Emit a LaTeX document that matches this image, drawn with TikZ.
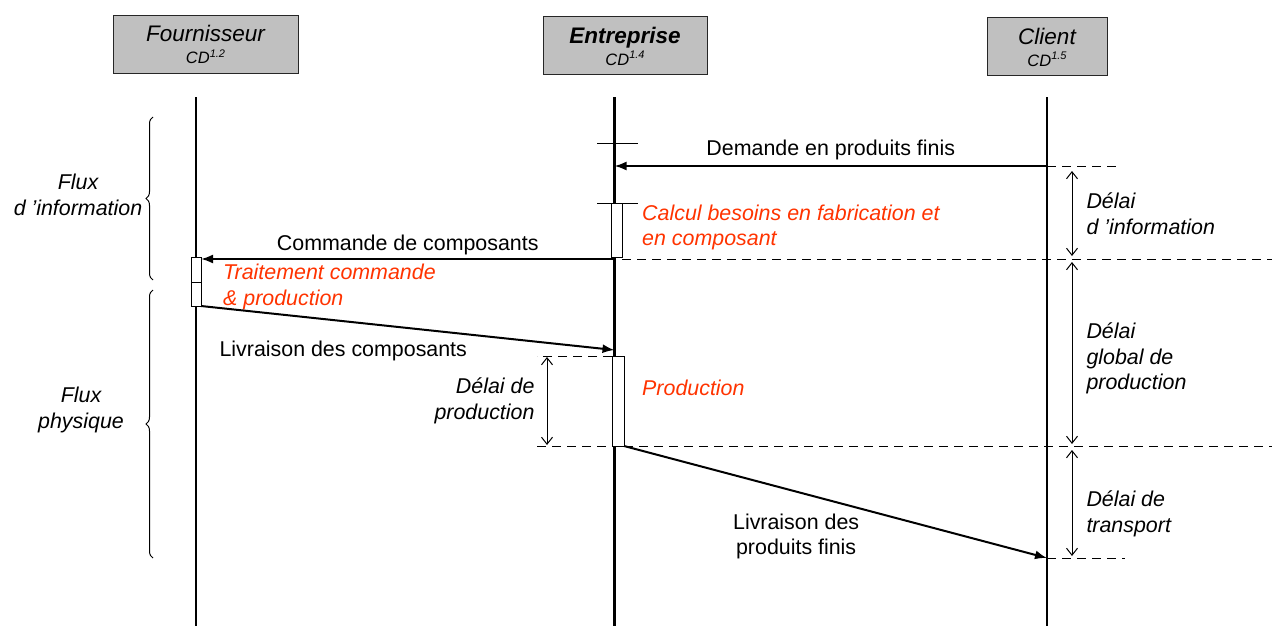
\documentclass[tikz,border=0pt]{standalone}
\usepackage{fontspec}
\setmainfont{Liberation Sans}
\usetikzlibrary{positioning, arrows.meta, decorations.pathreplacing}

\definecolor{taskred}{RGB}{255,51,0}
\definecolor{boxgray}{RGB}{192,192,192}
\newcommand{\cdref}[1]{{\fontsize{16.5}{18}\selectfont CD\raisebox{6.5pt}{\fontsize{11}{11}\selectfont #1}}}

\tikzset{
  actor/.style={draw=black!85, line width=1pt, fill=boxgray, minimum height=58pt, align=center, inner sep=0pt, font=\fontsize{22.5}{22}\selectfont\itshape},
  lifeline/.style={line width=1.2pt},
  activity/.style={draw, fill=white, line width=1pt, inner sep=0pt, outer sep=0pt},
  msg/.style={line width=2pt, -{Latex[length=12pt, width=9pt]}},
  delay/.style={line width=1pt, {Straight Barb[length=7pt, width=11pt]}-{Straight Barb[length=7pt, width=11pt]}},
  limit/.style={line width=1pt, dash pattern=on 9pt off 6pt},
  txt/.style={inner sep=0pt, font=\fontsize{21.4}{25}\selectfont, align=center},
  note/.style={txt, font=\fontsize{21.4}{25.5}\selectfont\itshape, align=left},
  task/.style={txt, text=taskred, font=\fontsize{21.4}{25.5}\selectfont\itshape, align=left}
}

\begin{document}
\begin{tikzpicture}[x=1pt, y=-1pt]
	\useasboundingbox (0,0) rectangle (1272,626);
	
	% acteurs
	\node[actor, minimum width=185pt]                          (fournisseur) at (205.5,44.5) {Fournisseur\\\cdref{1.2}};
	\node[actor, minimum width=164pt, font=\fontsize{22.5}{22}\selectfont\bfseries\itshape] (entreprise) at (625,46) {Entreprise\\{\mdseries\cdref{1.4}}};
	\node[actor, minimum width=120pt]                          (client)      at (1047,47)    {Client\\\cdref{1.5}};
	
	% lignes de vie
	\coordinate (f top)    at (196,97);
	\coordinate (f bottom) at (196,626);
	\coordinate (e top)    at (614.5,97);
	\coordinate (e bottom) at (614.5,626);
	\coordinate (c top)    at (1047,97);
	\coordinate (c bottom) at (1047,626);
	
	\draw[lifeline]                (f top) -- (f bottom);
	\draw[lifeline, line width=3pt] (e top) -- (e bottom);
	\draw[lifeline]                (c top) -- (c bottom);
	
	\draw[line width=1pt] (597,143) -- (638,143);
	\draw[line width=1pt] (597,203) -- (638,203);
	
	% activites
	\node[activity, minimum width=11pt, minimum height=54pt]                       (calcul)      at (616.5,230) {};
	\node[activity, minimum width=10pt, minimum height=25pt]                       (traitement a) at (196,269.5) {};
	\node[activity, minimum width=10pt, minimum height=24pt, below=0pt of traitement a] (traitement b) {};
	\node[activity, minimum width=12pt, minimum height=90pt]                       (production)  at (618,401) {};
	
	\node[task, anchor=north west] (calcul txt)     at (642,204.5) {Calcul besoins en fabrication et\\en composant};
	\node[task, anchor=north west] (traitement txt) at (223,264)   {Traitement commande\\\& production};
	\node[task, anchor=west]       (production txt) at (642,388)   {Production};
	
	% messages
	\coordinate (c demande)   at (1047,166);
	\coordinate (e demande)   at (614.5,166);
	\coordinate (e commande)  at (614.5,259);
	\coordinate (f commande)  at (201,259);
	\coordinate (e livraison) at (614.5,350);
	\coordinate (c livraison) at (1047,558);
	
	\draw[msg] (c demande) -- node[txt, above=5pt] {Demande en produits finis} (e demande);
	\draw[msg] (e commande) -- node[txt, above=3pt] {Commande de composants} (f commande);
	\draw[msg] (traitement b.south east) -- node[txt, pos=0.344, below=19pt] {Livraison des composants} (e livraison);
	\draw[msg] (production.south east) -- node[txt, pos=0.407, below=21pt] {Livraison des\\produits finis} (c livraison);
	
	% limites
	\draw[limit] (c demande) -- ++(73,0);
	\draw[limit] (622,259) -- (1272,259);
	\draw[limit] (production.north west) -- ++(-75,0);
	\draw[limit] (537,446) -- (production.south west);
	\draw[limit] (production.south east) -- (1272,446);
	\draw[limit] (c livraison) -- ++(78,0);
	
	% delais
	\coordinate (info a)      at (1072,171);
	\coordinate (info b)      at (1072,256);
	\coordinate (global a)    at (1072,262);
	\coordinate (global b)    at (1072,444);
	\coordinate (transport a) at (1072,450);
	\coordinate (transport b) at (1072,556);
	\coordinate (prod a)      at (547,357);
	\coordinate (prod b)      at (547,445);
	
	\draw[delay] (info a)      -- node[note, right=14pt]           {Délai\\d~'information}       (info b);
	\draw[delay] (global a)    -- node[note, pos=0.53, right=14pt] {Délai\\global de\\production} (global b);
	\draw[delay] (transport a) -- node[note, pos=0.6, right=14pt]  {Délai de\\transport}          (transport b);
	\draw[delay] (prod a)      -- node[note, left=12pt, align=right] {Délai de\\production}      (prod b);
	
	% flux
	\draw[line width=1pt, decorate, decoration={brace, amplitude=7pt}] (153,280) -- (153,117);
	\draw[line width=1pt, decorate, decoration={brace, amplitude=7pt}] (153,558) -- (153,290);
	\node[note, align=center] (flux info)     at (78,195) {Flux\\d~'information};
	\node[note, align=center] (flux physique) at (81,410) {Flux\\physique};
	
\end{tikzpicture}
\end{document}
